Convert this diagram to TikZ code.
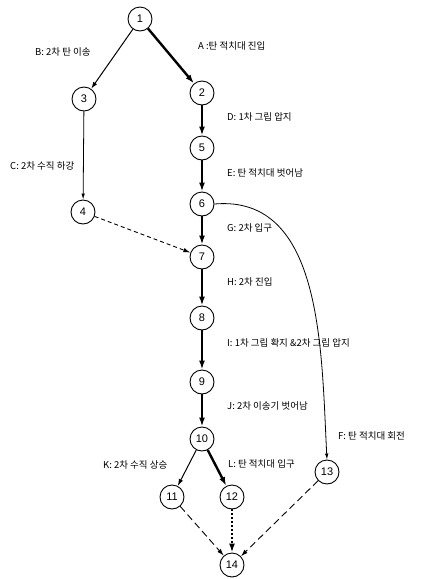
\documentclass[tikz,border=0pt]{standalone}
\usepackage{fontspec}
\setmainfont{Liberation Sans}
\newfontfamily\kr{Noto Sans CJK KR}
\usetikzlibrary{arrows.meta}
\tikzset{
  state/.style={circle, draw, line width=0.9pt, minimum size=24pt, inner sep=0pt, font=\fontsize{11}{11}\selectfont},
  lbl/.style={font=\kr\fontsize{9.5}{10}\selectfont, inner sep=0pt},
  edge/.style={line width=1pt, -{Latex[length=7pt,width=4.5pt]}},
  heavy/.style={line width=2.4pt, -{Latex[length=9pt,width=6pt]}},
  thinedge/.style={line width=0.8pt, -{Latex[length=6pt,width=3.5pt]}},
  shortdash/.style={line width=0.9pt, dash pattern=on 4pt off 3pt, -{Latex[length=7pt,width=4.5pt]}},
  longdash/.style={line width=0.9pt, dash pattern=on 7pt off 4pt, -{Latex[length=7pt,width=4.5pt]}},
  dotline/.style={line width=2.2pt, dash pattern=on 2pt off 2pt, -{Latex[length=9pt,width=6pt]}},
}
\begin{document}
\begin{tikzpicture}[x=1pt, y=-1pt]
\useasboundingbox (0,0) rectangle (422,579);
% states
\node[state] (n1)  at (140,19)  {1};
\node[state] (n2)  at (202,93)  {2};
\node[state] (n3)  at (84,99)   {3};
\node[state] (n5)  at (202,148) {5};
\node[state] (n6)  at (202,204) {6};
\node[state] (n4)  at (83,212)  {4};
\node[state] (n7)  at (202,257) {7};
\node[state] (n8)  at (202,318) {8};
\node[state] (n9)  at (202,382) {9};
\node[state] (n10) at (202,439) {10};
\node[state] (n11) at (172,497) {11};
\node[state] (n12) at (232,497) {12};
\node[state] (n13) at (327,472) {13};
\node[state] (n14) at (232,565) {14};
% transitions
\draw[heavy] (n1) -- (n2);
\draw[edge] (n1) -- (n3);
\draw[thinedge] (n3) -- (n4);
\draw[heavy] (n2) -- (n5);
\draw[heavy] (n5) -- (n6);
\draw[heavy] (n6) -- (n7);
\draw[heavy] (n7) -- (n8);
\draw[heavy] (n8) -- (n9);
\draw[heavy] (n9) -- (n10);
\draw[edge] (n10) -- (n11);
\draw[heavy] (n10) -- (n12);
\draw[shortdash] (n4) -- (n7);
\draw[thinedge] (n6.east) to[out=5, in=93] (n13.north);
\draw[longdash] (n11) -- (n14);
\draw[dotline] (n12) -- (n14);
\draw[longdash] (n13) -- (n14);
% labels
\node[lbl, anchor=west] (lA) at (198,46)  {A :탄 적치대 진입};
\node[lbl, anchor=west] (lB) at (35,52)   {B: 2차 탄 이송};
\node[lbl, anchor=west] (lC) at (10,166)  {C: 2차 수직 하강};
\node[lbl, anchor=west] (lD) at (227,117) {D: 1차 그립 압지};
\node[lbl, anchor=west] (lE) at (227,173) {E: 탄 적치대 벗어남};
\node[lbl, anchor=west] (lG) at (227,228) {G: 2차 입구};
\node[lbl, anchor=west] (lH) at (227,282) {H: 2차 진입};
\node[lbl, anchor=west] (lI) at (227,343) {I: 1차 그립 확지 \&2차 그립 압지};
\node[lbl, anchor=west] (lJ) at (227,406) {J: 2차 이송기 벗어남};
\node[lbl, anchor=west] (lF) at (338,436) {F: 탄 적치대 회전};
\node[lbl, anchor=west] (lK) at (103,465) {K: 2차 수직 상승};
\node[lbl, anchor=west] (lL) at (228,464) {L: 탄 적치대 입구};
\end{tikzpicture}
\end{document}
